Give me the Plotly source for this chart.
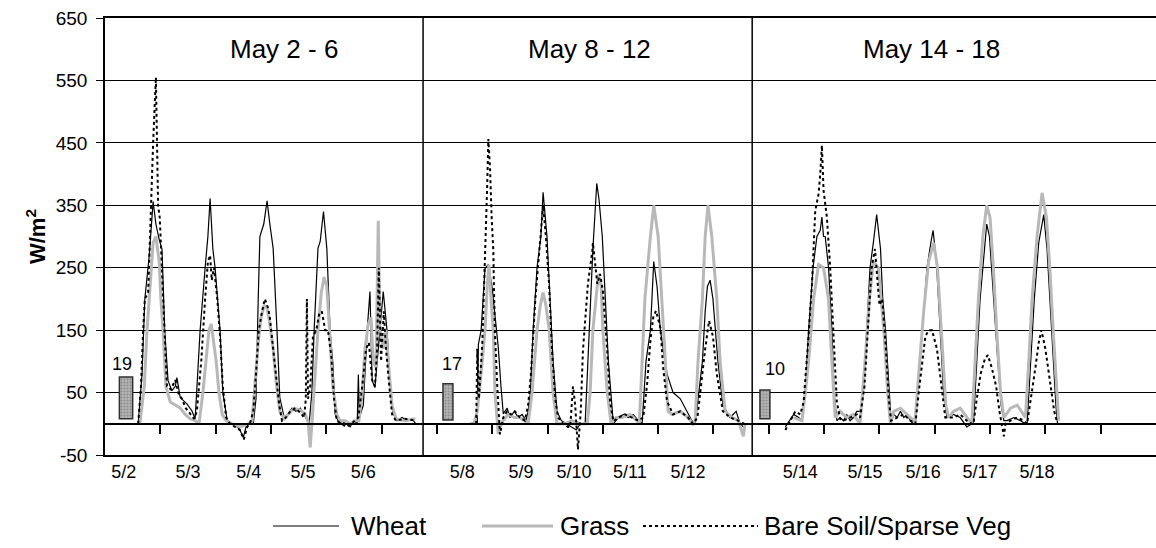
import plotly.graph_objects as go

# ---- time axis: continuous day index (tick every day); three observation windows ----
panel_titles = ["May 2 - 6", "May 8 - 12", "May 14 - 18"]
panel_title_t = [3.24, 8.75, 14.94]
panel_breaks = [5.75, 11.70]
day_ticks = list(range(1, 19))
date_labels = ["5/2", "5/3", "5/4", "5/5", "5/6",
               "5/8", "5/9", "5/10", "5/11", "5/12",
               "5/14", "5/15", "5/16", "5/17", "5/18"]
date_label_t = [0.34, 1.50, 2.60, 3.58, 4.67,
                6.46, 7.52, 8.48, 9.49, 10.54,
                12.57, 13.74, 14.79, 15.82, 16.85]
y_ticks = [-50, 50, 150, 250, 350, 450, 550, 650]
y_tick_text = ["-50", "50", "150", "250", "350", "450", "550", "650"]

# ---- Wheat ----
wheat_t1 = [0.60, 0.67, 0.72, 0.80, 0.87, 0.92, 0.98, 1.03, 1.08, 1.14, 1.21, 1.27, 1.30, 1.36, 1.48, 1.57, 1.63,
            1.66, 1.72, 1.81, 1.86, 1.90, 1.95, 1.99, 2.08, 2.13, 2.21,
            2.30, 2.39, 2.44, 2.50, 2.55, 2.60,
            2.68, 2.73, 2.77, 2.80, 2.87, 2.93, 2.98, 3.04, 3.11, 3.16, 3.24,
            3.31, 3.38, 3.45, 3.53, 3.60,
            3.69, 3.74, 3.78, 3.85, 3.89, 3.95, 4.01, 4.07, 4.12, 4.16, 4.21,
            4.29, 4.36, 4.43, 4.50,
            4.56, 4.58, 4.60, 4.67, 4.74, 4.79, 4.83, 4.88, 4.94, 5.00, 5.03, 5.10, 5.15, 5.21, 5.28, 5.37, 5.46, 5.55, 5.62]
wheat_v1 = [0, 80, 200, 270, 356, 320, 295, 280, 148, 69, 53, 60, 74, 42, 32, 21, 8,
            50, 150, 250, 300, 361, 280, 250, 150, 50, 5,
            0, -5, -10, -22, -5, 0,
            0, 40, 200, 300, 320, 357, 320, 281, 148, 42, 10,
            15, 25, 20, 25, 15,
            0, 50, 148, 281, 292, 340, 281, 148, 96, 16, 5,
            0, 5, -5, 5,
            0, 79, 10, 30, 150, 212, 69, 58, 120, 190, 212, 148, 69, 16, 5, 10, 5, 8, 0]
wheat_t2 = [6.47, 6.60, 6.73, 6.75, 6.80, 6.87, 6.93, 7.00, 7.05, 7.11, 7.16, 7.20,
            7.27, 7.32, 7.40, 7.47, 7.54, 7.61,
            7.65, 7.69, 7.74, 7.81, 7.88, 7.92, 7.99, 8.05, 8.10, 8.17,
            8.25, 8.34, 8.42, 8.52, 8.59,
            8.68, 8.73, 8.78, 8.82, 8.89, 8.93, 8.99, 9.04, 9.10, 9.19,
            9.28, 9.37, 9.46, 9.55, 9.64,
            9.71, 9.78, 9.86, 9.92, 9.98, 10.04, 10.16, 10.27, 10.40, 10.52, 10.61,
            10.67, 10.80, 10.85, 10.89, 10.94, 10.99, 11.08, 11.17, 11.30, 11.41, 11.48, 11.54]
wheat_v2 = [0, 0, 0, 127, 150, 249, 255, 217, 175, 122, 58, 16,
            25, 10, 20, 10, 15, 5,
            20, 50, 150, 250, 300, 371, 300, 200, 100, 20,
            5, 0, -5, -10, 0,
            0, 100, 200, 280, 385, 360, 300, 200, 100, 0,
            10, 15, 10, 15, 5,
            0, 100, 150, 260, 220, 150, 80, 50, 40, 20, 5,
            0, 100, 180, 220, 230, 200, 100, 30, 10, 20, 0, -5]
wheat_t3 = [12.30, 12.45, 12.54, 12.60,
            12.63, 12.66, 12.72, 12.80, 12.87, 12.93, 12.96, 12.99, 13.02, 13.08, 13.14, 13.18, 13.23,
            13.29, 13.35, 13.41, 13.47, 13.53, 13.59,
            13.65, 13.71, 13.77, 13.83, 13.89, 13.95, 14.02, 14.06, 14.11, 14.17, 14.21,
            14.26, 14.32, 14.38, 14.44, 14.50, 14.56, 14.62,
            14.65, 14.69, 14.77, 14.86, 14.93, 14.97, 15.03, 15.07, 15.10, 15.16, 15.22,
            15.34, 15.46, 15.58, 15.67,
            15.70, 15.76, 15.82, 15.90, 15.94, 15.99, 16.06, 16.14, 16.20, 16.25,
            16.31, 16.43, 16.55, 16.64,
            16.67, 16.74, 16.80, 16.88, 16.97, 17.03, 17.08, 17.14, 17.19, 17.22]
wheat_v3 = [-5, 15, 10, 5,
            30, 50, 150, 250, 300, 310, 331, 300, 300, 250, 150, 50, 5,
            10, 5, 15, 5, 10, 20,
            20, 50, 150, 250, 290, 335, 280, 200, 150, 50, 5,
            15, 10, 20, 10, 15, 5, 0,
            0, 50, 150, 250, 290, 310, 260, 200, 150, 50, 10,
            15, 10, -5, 0,
            0, 100, 200, 280, 320, 300, 200, 100, 30, 5,
            5, 10, 5, 0,
            0, 100, 200, 290, 335, 280, 200, 100, 30, 0]

# ---- Grass ----
grass_t1 = [0.63, 0.71, 0.76, 0.81, 0.87, 0.92, 0.98, 1.01, 1.05, 1.10, 1.18, 1.27, 1.36, 1.45, 1.54, 1.63,
            1.70, 1.77, 1.83, 1.88, 1.92, 1.97, 2.01, 2.06, 2.12, 2.19,
            2.30, 2.44, 2.59,
            2.66, 2.71, 2.77, 2.82, 2.88, 2.93, 2.98, 3.04, 3.09, 3.16, 3.24,
            3.31, 3.42, 3.53, 3.62,
            3.67, 3.71, 3.74, 3.80, 3.85, 3.91, 3.96, 4.01, 4.07, 4.12, 4.19, 4.25,
            4.34, 4.43, 4.52,
            4.59, 4.65, 4.70, 4.76, 4.81, 4.85, 4.90, 4.94, 4.97, 5.03, 5.08, 5.14, 5.19, 5.26, 5.42, 5.61]
grass_v1 = [0, 60, 150, 220, 290, 300, 260, 200, 150, 60, 35, 30, 25, 15, 8, 5,
            0, 50, 100, 150, 160, 130, 100, 50, 15, 5,
            0, -5, 0,
            5, 60, 130, 170, 190, 185, 160, 120, 70, 20, 8,
            15, 25, 22, 15,
            5, -38, 0, 80, 150, 210, 235, 220, 140, 60, 15, 5,
            5, 0, 5,
            5, 50, 120, 160, 170, 100, 90, 325, 150, 120, 150, 80, 30, 8, 5, 8]
grass_t2 = [6.67, 6.73, 6.82, 6.87, 6.91, 6.94, 6.98, 7.02, 7.05, 7.11, 7.14, 7.20,
            7.29, 7.40, 7.50, 7.59,
            7.65, 7.72, 7.81, 7.87, 7.92, 7.97, 8.03, 8.10, 8.17,
            8.32, 8.44, 8.59,
            8.72, 8.77, 8.82, 8.88, 8.92, 8.97, 9.00, 9.08, 9.15,
            9.24, 9.35, 9.49, 9.62,
            9.66, 9.71, 9.76, 9.86, 9.92, 10.00, 10.07, 10.13, 10.18, 10.25, 10.40, 10.54, 10.63,
            10.67, 10.72, 10.80, 10.85, 10.90, 10.97, 11.06, 11.12, 11.21, 11.34, 11.45, 11.54, 11.57]
grass_v2 = [0, 20, 100, 150, 220, 255, 200, 148, 50, -16, -5, 5,
            15, 10, 10, 5,
            0, 50, 150, 190, 210, 190, 150, 50, 0,
            0, 5, 0,
            0, 50, 150, 210, 240, 220, 150, 50, 0,
            10, 10, 15, 5,
            0, 100, 200, 300, 350, 300, 200, 100, 20, 15, 20, 10, 0,
            5, 100, 200, 300, 350, 300, 200, 100, 20, 10, 5, -20, 0]
grass_t3 = [12.45, 12.60,
            12.66, 12.72, 12.81, 12.90, 12.99, 13.08, 13.14, 13.20,
            13.29, 13.41, 13.53, 13.62,
            13.65, 13.74, 13.82, 13.89, 13.98, 14.08, 14.15, 14.20,
            14.26, 14.38, 14.50, 14.62,
            14.64, 14.71, 14.80, 14.89, 14.98, 15.05, 15.10, 15.15, 15.20, 15.25,
            15.34, 15.46, 15.58,
            15.67, 15.73, 15.79, 15.87, 15.94, 16.00, 16.06, 16.12, 16.19, 16.25,
            16.37, 16.49, 16.61,
            16.64, 16.70, 16.76, 16.85, 16.94, 17.02, 17.08, 17.14, 17.20, 17.24]
grass_v3 = [10, 5,
            50, 100, 200, 255, 250, 200, 100, 10,
            20, 10, 15, 5,
            0, 100, 200, 260, 250, 150, 50, 0,
            20, 25, 15, 5,
            0, 80, 180, 260, 290, 250, 180, 100, 30, 10,
            20, 25, 10,
            0, 100, 200, 300, 350, 330, 250, 150, 50, 10,
            25, 30, 15,
            10, 100, 200, 300, 370, 330, 250, 150, 50, 5]

# ---- Bare Soil / Sparse Veg ----
bare_t1 = [0.60, 0.65, 0.69, 0.72, 0.78, 0.83, 0.87, 0.92, 0.96, 0.99, 1.03, 1.07, 1.12, 1.19, 1.27, 1.32, 1.39, 1.46, 1.54, 1.61,
           1.66, 1.74, 1.81, 1.86, 1.90, 1.93, 1.97, 2.03, 2.08, 2.13, 2.19, 2.26,
           2.35, 2.44, 2.51, 2.57, 2.62,
           2.68, 2.73, 2.78, 2.84, 2.89, 2.95, 2.98, 3.04, 3.09, 3.15, 3.20,
           3.27, 3.35, 3.44, 3.53, 3.60,
           3.63, 3.65, 3.67, 3.71, 3.76, 3.82, 3.87, 3.92, 3.98, 4.03, 4.09, 4.14, 4.19,
           4.27, 4.36, 4.45, 4.52,
           4.58, 4.65, 4.72, 4.77, 4.83, 4.88, 4.92, 4.95, 4.99, 5.04, 5.08, 5.14, 5.19, 5.26, 5.42, 5.61]
bare_v1 = [0, 60, 150, 200, 210, 350, 450, 555, 350, 330, 250, 150, 60, 55, 70, 50, 40, 25, 15, 8,
           20, 100, 200, 260, 270, 230, 250, 200, 140, 60, 10, 0,
           -5, -10, -25, -5, 0,
           20, 80, 150, 180, 200, 185, 170, 120, 80, 30, 5,
           10, 20, 25, 18, 10,
           40, 200, 40, 60, 140, 150, 175, 180, 150, 150, 110, 40, 5,
           0, -5, 0, 5,
           10, 60, 120, 130, 70, 60, 120, 250, 100, 180, 120, 60, 15, 5, 8, 5]
bare_t2 = [6.60, 6.71, 6.73, 6.76, 6.82, 6.87, 6.91, 6.93, 6.96, 6.99, 7.02, 7.03, 7.05, 7.09, 7.14, 7.20,
           7.27, 7.34, 7.41, 7.50, 7.59,
           7.65, 7.70, 7.78, 7.85, 7.92, 7.97, 8.03, 8.08, 8.14, 8.19,
           8.28, 8.37, 8.41, 8.46, 8.50, 8.55, 8.60,
           8.64, 8.68, 8.73, 8.81, 8.82, 8.90, 8.95, 9.00, 9.08, 9.13, 9.19,
           9.28, 9.40, 9.53, 9.64,
           9.73, 9.80, 9.86, 9.91, 9.96, 10.04, 10.09, 10.16, 10.27, 10.40, 10.54, 10.63,
           10.71, 10.76, 10.85, 10.92, 10.99, 11.06, 11.17, 11.30, 11.45, 11.56]
bare_v2 = [0, 0, 120, 40, 127, 256, 384, 456, 411, 330, 277, 224, 143, 63, -17, 10,
           20, 15, 20, 10, 5,
           30, 80, 200, 280, 350, 300, 220, 120, 40, 10,
           0, -5, -5, 60, 30, -41, 20,
           117, 170, 224, 277, 290, 224, 240, 213, 117, 36, 4,
           10, 15, 10, 5,
           10, 63, 133, 170, 181, 154, 90, 36, 15, 20, 10, 0,
           10, 50, 120, 165, 140, 80, 20, 10, 5, 0]
bare_t3 = [12.30, 12.39, 12.48, 12.57,
           12.63, 12.72, 12.78, 12.84, 12.90, 12.93, 12.96, 12.99, 13.05, 13.11, 13.17, 13.23, 13.29,
           13.35, 13.47, 13.59,
           13.65, 13.73, 13.79, 13.86, 13.92, 13.97, 14.00, 14.05, 14.11, 14.17, 14.21,
           14.32, 14.44, 14.56,
           14.65, 14.71, 14.77, 14.83, 14.89, 14.95, 15.04, 15.10, 15.15, 15.19,
           15.34, 15.46, 15.58, 15.67,
           15.70, 15.76, 15.83, 15.91, 15.96, 16.03, 16.11, 16.17, 16.25, 16.28,
           16.37, 16.49, 16.61,
           16.67, 16.74, 16.82, 16.88, 16.93, 17.00, 17.08, 17.16, 17.22]
bare_v3 = [-10, 5, 20, 15,
           35, 142, 223, 341, 368, 400, 446, 374, 331, 250, 142, 35, 8,
           5, 10, 15,
           10, 60, 150, 250, 280, 230, 190, 200, 130, 40, 5,
           10, 15, 5,
           0, 50, 100, 140, 150, 150, 120, 80, 40, 10,
           10, 15, 5, 0,
           0, 40, 80, 105, 110, 90, 60, 20, -20, 0,
           5, 10, 5,
           0, 40, 90, 130, 150, 120, 70, 20, 0]

# ---- small grey bars with their numbers ----
bar_labels = ["19", "17", "10"]
bar_t = [0.38, 6.20, 11.93]
bar_bottom = [8, 6, 8]
bar_top = [75, 64, 54]

# ---- legend entries ----
legend_names = ["Wheat", "Grass", "Bare Soil/Sparse Veg"]


def join(*parts):
    out = []
    for i, p in enumerate(parts):
        if i:
            out.append(None)
        out.extend(p)
    return out


FONT = "Arial, 'Liberation Sans', Helvetica, sans-serif"
WHEAT_LINE = dict(color="black", width=1.2)
GRASS_LINE = dict(color="#b8b8b8", width=3)
BARE_LINE = dict(color="black", width=2, dash="3px,3px")

fig = go.Figure()

fig.add_trace(go.Bar(
    x=bar_t, y=[t - b for t, b in zip(bar_top, bar_bottom)], base=bar_bottom,
    width=[0.24, 0.18, 0.18],
    marker=dict(color="#a8a8a8", line=dict(color="#303030", width=1.5),
                pattern=dict(shape=".", fgcolor="#606060", bgcolor="#b4b4b4",
                             size=3, solidity=0.35)),
    showlegend=False, hoverinfo="skip", xaxis="x", yaxis="y"))

fig.add_trace(go.Scatter(
    x=join(wheat_t1, wheat_t2, wheat_t3), y=join(wheat_v1, wheat_v2, wheat_v3),
    mode="lines", name=legend_names[0], line=WHEAT_LINE, showlegend=False))
fig.add_trace(go.Scatter(
    x=join(grass_t1, grass_t2, grass_t3), y=join(grass_v1, grass_v2, grass_v3),
    mode="lines", name=legend_names[1], line=GRASS_LINE, showlegend=False))
fig.add_trace(go.Scatter(
    x=join(bare_t1, bare_t2, bare_t3), y=join(bare_v1, bare_v2, bare_v3),
    mode="lines", name=legend_names[2], line=BARE_LINE, showlegend=False))

# invisible carrier so the date-label axis (xaxis2) is drawn
fig.add_trace(go.Scatter(x=date_label_t, y=[None] * len(date_label_t), xaxis="x2", yaxis="y",
                         mode="lines", showlegend=False, hoverinfo="skip"))

for xb in panel_breaks:
    fig.add_shape(type="line", xref="x", yref="y", x0=xb, x1=xb, y0=-50, y1=650,
                  line=dict(color="black", width=1.5), layer="above")

for txt, xt in zip(panel_titles, panel_title_t):
    fig.add_annotation(x=xt, y=600, xref="x", yref="y", text=txt, showarrow=False,
                       font=dict(size=26, color="black", family=FONT))

label_shift = [-4, 4, 10]
label_y = [95, 95, 88]
for txt, xt, ly, sh in zip(bar_labels, bar_t, label_y, label_shift):
    fig.add_annotation(x=xt, y=ly, xref="x", yref="y", text=txt, showarrow=False,
                       xshift=sh, font=dict(size=18, color="black", family=FONT))

# custom legend (sample line + label), placed below the plot in paper coordinates
PW = 1051.0
PH = 437.0
leg_y = (455 - 526) / PH
leg_items = [(273, 339, 349, WHEAT_LINE), (482, 553, 558, GRASS_LINE), (643, 758, 762, BARE_LINE)]
for name, (x0, x1, xt, ln) in zip(legend_names, leg_items):
    fig.add_shape(type="line", xref="paper", yref="paper",
                  x0=(x0 - 105) / PW, x1=(x1 - 105) / PW, y0=leg_y, y1=leg_y, line=ln)
    fig.add_annotation(x=(xt - 105) / PW, y=leg_y, xref="paper", yref="paper",
                       text=name, showarrow=False, xanchor="left", yanchor="middle",
                       font=dict(size=26, color="black", family=FONT))

fig.update_layout(
    width=1156, height=548,
    margin=dict(l=105, r=0, t=18, b=93),
    paper_bgcolor="white", plot_bgcolor="white",
    font=dict(family=FONT, color="black", size=17),
    showlegend=False,
    xaxis=dict(range=[0, 19], tickmode="array", tickvals=day_ticks, ticks="outside",
               ticklen=9, tickwidth=1.5, tickcolor="black", showticklabels=False,
               showgrid=False, zeroline=False, showline=True, linecolor="black",
               linewidth=1.5, anchor="free", position=50 / 700),
    xaxis2=dict(range=[0, 19], overlaying="x", anchor="y", side="bottom",
                tickmode="array", tickvals=date_label_t, ticktext=date_labels,
                ticks="", showgrid=False, zeroline=False, showline=True, mirror=True,
                linecolor="black", linewidth=1.5, tickfont=dict(size=18, family=FONT)),
    yaxis=dict(range=[-50, 650], tickmode="array", tickvals=y_ticks, ticktext=y_tick_text,
               showgrid=True, gridcolor="black", gridwidth=1.3, zeroline=False,
               showline=True, linecolor="black", linewidth=1.5, ticks="outside",
               ticklen=7, tickcolor="black", ticklabelstandoff=5,
               tickfont=dict(size=19, family=FONT),
               title=dict(text="<b>W/m<sup>2</sup></b>", standoff=4,
                          font=dict(size=22, family=FONT))),
)

fig.write_html("out.html")
